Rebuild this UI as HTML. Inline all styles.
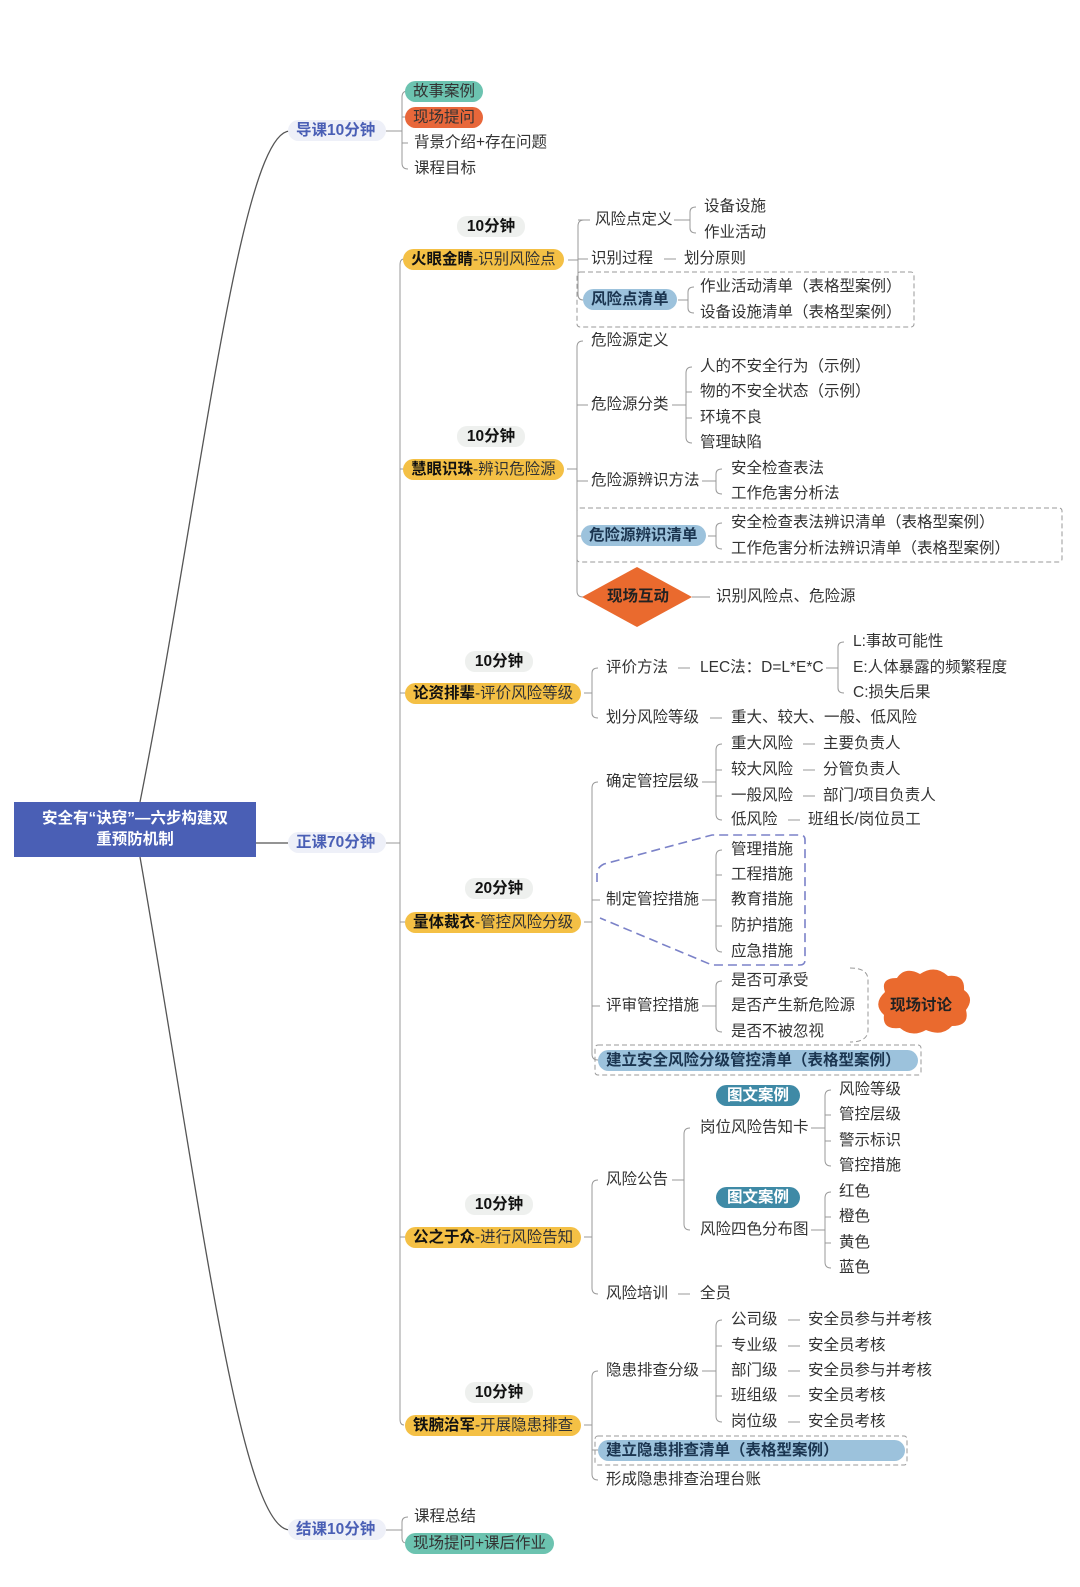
<!DOCTYPE html>
<html><head><meta charset="utf-8"><style>
body{margin:0;background:#fff;}
#c{position:relative;width:1080px;height:1587px;overflow:hidden;background:#fff;font-family:"Liberation Sans","Noto Sans CJK SC",sans-serif;}
.t{position:absolute;font-size:15.5px;line-height:18px;white-space:nowrap;color:#333;}
.p{position:absolute;font-size:15.5px;line-height:21px;height:21px;white-space:nowrap;border-radius:11px;padding:0 8px;box-sizing:border-box;}
.y{background:#f4c045;color:#333;}
.y b{color:#111;}
.g{background:#eef0ee;color:#111;font-weight:bold;text-align:center;border-radius:10px;}
.m{background:#eef0f8;color:#4a5fb5;font-weight:bold;}
.bl{background:#9cc2dc;color:#1b3550;font-weight:bold;}
.dk{background:#3f8aa6;color:#fff;font-weight:bold;}
svg{position:absolute;left:0;top:0;}
</style></head><body><div id="c">
<svg width="1080" height="1587">
<g fill="none" stroke="#555" stroke-width="1.3">
<path d="M140 802 C200 500 240 131 290 131"/>
<path d="M140 857 C200 1200 240 1530 290 1530"/>
<path d="M256 843 L288 843"/>
</g>
<g fill="none" stroke="#999" stroke-width="1">
<path d="M386 131 L402 131 M408 91 Q402 91 402 97 L402 163 Q402 169 408 169 M402 117 L406 117 M402 143 L408 143"/>
<path d="M386 843 L400 843 M404 259 Q400 259 400 265 L400 1419 Q400 1425 404 1425 M400 469 L404 469 M400 693 L405 693 M400 922 L405 922 M400 1237 L405 1237"/>
<path d="M386 1530 L402 1530 M408 1517 Q402 1517 402 1522 L402 1538 Q402 1543 406 1543"/>
<path d="M568 260 L578 260 M584 220 Q578 220 578 226 L578 294 Q578 300 583 300 M578 259 L588 259 M578 220 L590 220"/>
<path d="M674 220 L690 220 M696 207 Q690 207 690 212 L690 228 Q690 233 696 233"/>
<path d="M664 259 L676 259"/>
<path d="M678 300 L688 300 M694 287 Q688 287 688 292 L688 308 Q688 313 694 313"/>
<path d="M567 469 L577 469 M583 341 Q577 341 577 347 L577 591 Q577 597 583 597 M577 405 L588 405 M577 481 L588 481 M577 536 L581 536"/>
<path d="M672 405 L686 405 M692 367 Q686 367 686 373 L686 437 Q686 443 692 443 M686 392 L692 392 M686 418 L692 418"/>
<path d="M702 481 L716 481 M722 469 Q716 469 716 474 L716 489 Q716 494 722 494"/>
<path d="M708 536 L716 536 M722 523 Q716 523 716 528 L716 544 Q716 549 722 549"/>
<path d="M692 597 L710 597"/>
<path d="M584 693 L592 693 M598 668 Q592 668 592 673 L592 713 Q592 718 598 718"/>
<path d="M678 668 L690 668 M826 668 L838 668 M844 642 Q838 642 838 647 L838 688 Q838 693 844 693"/>
<path d="M710 718 L722 718"/>
<path d="M584 922 L592 922 M598 782 Q592 782 592 788 L592 1054 Q592 1060 598 1060 M592 900 L600 900 M592 1006 L600 1006"/>
<path d="M702 782 L716 782 M722 744 Q716 744 716 750 L716 814 Q716 820 722 820 M716 770 L722 770 M716 796 L722 796"/>
<path d="M803 744 L815 744 M803 770 L815 770 M803 796 L815 796 M788 820 L800 820"/>
<path d="M702 900 L716 900 M722 850 Q716 850 716 856 L716 946 Q716 952 722 952 M716 875 L722 875 M716 926 L722 926"/>
<path d="M702 1006 L716 1006 M722 981 Q716 981 716 986 L716 1027 Q716 1032 722 1032"/>
<path d="M584 1237 L592 1237 M598 1180 Q592 1180 592 1186 L592 1288 Q592 1294 598 1294"/>
<path d="M672 1180 L684 1180 M690 1128 Q684 1128 684 1134 L684 1224 Q684 1230 690 1230"/>
<path d="M811 1128 L825 1128 M831 1090 Q825 1090 825 1096 L825 1160 Q825 1166 831 1166 M825 1115 L831 1115 M825 1141 L831 1141"/>
<path d="M811 1230 L825 1230 M831 1192 Q825 1192 825 1198 L825 1262 Q825 1268 831 1268 M825 1217 L831 1217 M825 1243 L831 1243"/>
<path d="M678 1294 L690 1294"/>
<path d="M584 1425 L592 1425 M598 1371 Q592 1371 592 1377 L592 1474 Q592 1480 598 1480 M592 1450 L598 1450"/>
<path d="M702 1371 L716 1371 M722 1320 Q716 1320 716 1326 L716 1416 Q716 1422 722 1422 M716 1346 L722 1346 M716 1396 L722 1396"/>
<path d="M788 1320 L800 1320 M788 1346 L800 1346 M788 1371 L800 1371 M788 1396 L800 1396 M788 1422 L800 1422"/>
</g>
<g fill="none" stroke="#999" stroke-width="1" stroke-dasharray="5 3">
<rect x="577" y="272" width="337" height="55" rx="3"/>
<rect x="577" y="508" width="485" height="54" rx="3"/>
<path d="M850 968 Q868 968 868 980 L868 1030 Q868 1042 850 1042"/>
<rect x="595" y="1045" width="326" height="30" rx="3"/>
<rect x="595" y="1436" width="312" height="29" rx="3"/>
</g>
<path d="M597 882 L597 872 Q598 867 604 864 L712 835 L800 835 Q805 835 805 840 L805 960 Q805 965 800 965 L712 965 L600 918" fill="none" stroke="#7b82c8" stroke-width="1.6" stroke-dasharray="9 5"/>
<polygon points="637,567 692,597 637,627 582,597" fill="#ea6a2e"/>
<path d="M885 992 Q880 978 897 978 Q905 966 920 974 Q935 964 948 976 Q965 974 964 990 Q975 998 966 1010 Q970 1026 952 1026 Q942 1037 926 1030 Q912 1038 900 1028 Q882 1030 884 1015 Q872 1004 885 992 Z" fill="#ea6a2e"/>
</svg>

<div style="position:absolute;left:14px;top:802px;width:242px;height:55px;background:#4a5fb5;color:#fff;font-weight:bold;font-size:15.5px;line-height:21px;text-align:center;padding-top:6px;box-sizing:border-box;">安全有“诀窍”—六步构建双<br>重预防机制</div>

<div class="p m" style="left:288px;top:120px;width:98px;">导课10分钟</div>
<div class="p m" style="left:288px;top:832px;width:98px;">正课70分钟</div>
<div class="p m" style="left:288px;top:1519px;width:98px;">结课10分钟</div>

<div class="p" style="left:405px;top:81px;background:#6cc3b0;color:#333;">故事案例</div>
<div class="p" style="left:405px;top:107px;background:#e8673a;color:#333;">现场提问</div>
<div class="t" style="left:414px;top:134px;">背景介绍+存在问题</div>
<div class="t" style="left:414px;top:160px;">课程目标</div>

<div class="p g" style="left:457px;top:216px;width:68px;">10分钟</div>
<div class="p y" style="left:403px;top:249px;"><b>火眼金睛</b>-识别风险点</div>
<div class="p g" style="left:457px;top:426px;width:68px;">10分钟</div>
<div class="p y" style="left:403px;top:459px;"><b>慧眼识珠</b>-辨识危险源</div>
<div class="p g" style="left:465px;top:651px;width:68px;">10分钟</div>
<div class="p y" style="left:405px;top:683px;"><b>论资排辈</b>-评价风险等级</div>
<div class="p g" style="left:465px;top:878px;width:68px;">20分钟</div>
<div class="p y" style="left:405px;top:912px;"><b>量体裁衣</b>-管控风险分级</div>
<div class="p g" style="left:465px;top:1194px;width:68px;">10分钟</div>
<div class="p y" style="left:405px;top:1227px;"><b>公之于众</b>-进行风险告知</div>
<div class="p g" style="left:465px;top:1382px;width:68px;">10分钟</div>
<div class="p y" style="left:405px;top:1415px;"><b>铁腕治军</b>-开展隐患排查</div>

<div class="t" style="left:595px;top:211px;">风险点定义</div>
<div class="t" style="left:704px;top:198px;">设备设施</div>
<div class="t" style="left:704px;top:224px;">作业活动</div>
<div class="t" style="left:591px;top:250px;">识别过程</div>
<div class="t" style="left:684px;top:250px;">划分原则</div>
<div class="p bl" style="left:583px;top:289px;">风险点清单</div>
<div class="t" style="left:700px;top:278px;">作业活动清单（表格型案例）</div>
<div class="t" style="left:700px;top:304px;">设备设施清单（表格型案例）</div>

<div class="t" style="left:591px;top:332px;">危险源定义</div>
<div class="t" style="left:591px;top:396px;">危险源分类</div>
<div class="t" style="left:700px;top:358px;">人的不安全行为（示例）</div>
<div class="t" style="left:700px;top:383px;">物的不安全状态（示例）</div>
<div class="t" style="left:700px;top:409px;">环境不良</div>
<div class="t" style="left:700px;top:434px;">管理缺陷</div>
<div class="t" style="left:591px;top:472px;">危险源辨识方法</div>
<div class="t" style="left:731px;top:460px;">安全检查表法</div>
<div class="t" style="left:731px;top:485px;">工作危害分析法</div>
<div class="p bl" style="left:581px;top:525px;">危险源辨识清单</div>
<div class="t" style="left:731px;top:514px;">安全检查表法辨识清单（表格型案例）</div>
<div class="t" style="left:731px;top:540px;">工作危害分析法辨识清单（表格型案例）</div>
<div class="t" style="left:607px;top:588px;font-weight:bold;color:#222;">现场互动</div>
<div class="t" style="left:716px;top:588px;">识别风险点、危险源</div>

<div class="t" style="left:606px;top:659px;">评价方法</div>
<div class="t" style="left:700px;top:659px;">LEC法：D=L*E*C</div>
<div class="t" style="left:853px;top:633px;">L:事故可能性</div>
<div class="t" style="left:853px;top:659px;">E:人体暴露的频繁程度</div>
<div class="t" style="left:853px;top:684px;">C:损失后果</div>
<div class="t" style="left:606px;top:709px;">划分风险等级</div>
<div class="t" style="left:731px;top:709px;">重大、较大、一般、低风险</div>

<div class="t" style="left:606px;top:773px;">确定管控层级</div>
<div class="t" style="left:731px;top:735px;">重大风险</div><div class="t" style="left:823px;top:735px;">主要负责人</div>
<div class="t" style="left:731px;top:761px;">较大风险</div><div class="t" style="left:823px;top:761px;">分管负责人</div>
<div class="t" style="left:731px;top:787px;">一般风险</div><div class="t" style="left:823px;top:787px;">部门/项目负责人</div>
<div class="t" style="left:731px;top:811px;">低风险</div><div class="t" style="left:808px;top:811px;">班组长/岗位员工</div>
<div class="t" style="left:606px;top:891px;">制定管控措施</div>
<div class="t" style="left:731px;top:841px;">管理措施</div>
<div class="t" style="left:731px;top:866px;">工程措施</div>
<div class="t" style="left:731px;top:891px;">教育措施</div>
<div class="t" style="left:731px;top:917px;">防护措施</div>
<div class="t" style="left:731px;top:943px;">应急措施</div>
<div class="t" style="left:606px;top:997px;">评审管控措施</div>
<div class="t" style="left:731px;top:972px;">是否可承受</div>
<div class="t" style="left:731px;top:997px;">是否产生新危险源</div>
<div class="t" style="left:731px;top:1023px;">是否不被忽视</div>
<div class="t" style="left:890px;top:997px;font-weight:bold;color:#222;">现场讨论</div>
<div class="p bl" style="left:598px;top:1050px;width:320px;">建立安全风险分级管控清单（表格型案例）</div>

<div class="t" style="left:606px;top:1171px;">风险公告</div>
<div class="p dk" style="left:716px;top:1085px;width:84px;text-align:center;">图文案例</div>
<div class="t" style="left:700px;top:1119px;">岗位风险告知卡</div>
<div class="t" style="left:839px;top:1081px;">风险等级</div>
<div class="t" style="left:839px;top:1106px;">管控层级</div>
<div class="t" style="left:839px;top:1132px;">警示标识</div>
<div class="t" style="left:839px;top:1157px;">管控措施</div>
<div class="p dk" style="left:716px;top:1187px;width:84px;text-align:center;">图文案例</div>
<div class="t" style="left:700px;top:1221px;">风险四色分布图</div>
<div class="t" style="left:839px;top:1183px;">红色</div>
<div class="t" style="left:839px;top:1208px;">橙色</div>
<div class="t" style="left:839px;top:1234px;">黄色</div>
<div class="t" style="left:839px;top:1259px;">蓝色</div>
<div class="t" style="left:606px;top:1285px;">风险培训</div>
<div class="t" style="left:700px;top:1285px;">全员</div>

<div class="t" style="left:606px;top:1362px;">隐患排查分级</div>
<div class="t" style="left:731px;top:1311px;">公司级</div><div class="t" style="left:808px;top:1311px;">安全员参与并考核</div>
<div class="t" style="left:731px;top:1337px;">专业级</div><div class="t" style="left:808px;top:1337px;">安全员考核</div>
<div class="t" style="left:731px;top:1362px;">部门级</div><div class="t" style="left:808px;top:1362px;">安全员参与并考核</div>
<div class="t" style="left:731px;top:1387px;">班组级</div><div class="t" style="left:808px;top:1387px;">安全员考核</div>
<div class="t" style="left:731px;top:1413px;">岗位级</div><div class="t" style="left:808px;top:1413px;">安全员考核</div>
<div class="p bl" style="left:598px;top:1440px;width:307px;">建立隐患排查清单（表格型案例）</div>
<div class="t" style="left:606px;top:1471px;">形成隐患排查治理台账</div>

<div class="t" style="left:414px;top:1508px;">课程总结</div>
<div class="p" style="left:405px;top:1533px;background:#6cc3b0;color:#333;">现场提问+课后作业</div>
</div></body></html>
